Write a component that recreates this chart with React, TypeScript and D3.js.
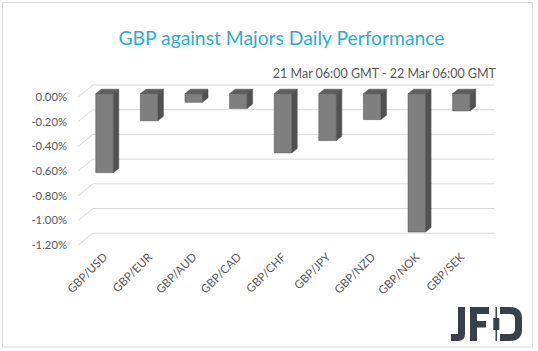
import { useEffect, useRef } from "react";
import * as d3 from "d3";

const pairs = [
  "GBP/USD",
  "GBP/EUR",
  "GBP/AUD",
  "GBP/CAD",
  "GBP/CHF",
  "GBP/JPY",
  "GBP/NZD",
  "GBP/NOK",
  "GBP/SEK",
];
const changes = [-0.64, -0.22, -0.07, -0.12, -0.48, -0.38, -0.21, -1.12, -0.14];
const yTicks = [0, -0.2, -0.4, -0.6, -0.8, -1.0, -1.2];

const title = "GBP against Majors Daily Performance";
const subtitle = "21 Mar 06:00 GMT - 22 Mar 06:00 GMT";

export default function App() {
  const svgRef = useRef<SVGSVGElement>(null);

  useEffect(() => {
    document.body.style.margin = "0";
    if (!svgRef.current) return;
    const svg = d3.select(svgRef.current);
    svg.selectAll("*").remove();

    const W = 538;
    const H = 351;
    const font = "Lato, 'Open Sans', sans-serif";

    // 3d depth of the plot box (front plane -> back wall)
    const depth = { dx: 15, dy: -12 };
    const barFront = 0.28;
    const barBack = 0.65;

    const x = d3
      .scaleBand<string>()
      .domain(pairs)
      .range([78, 479.5])
      .paddingInner(0.608)
      .paddingOuter(0.304);

    const y = d3.scaleLinear().domain([0, -1.2]).range([97, 245.2]);

    svg.attr("width", W).attr("height", H).style("display", "block");

    svg
      .append("rect")
      .attr("width", W)
      .attr("height", H)
      .attr("fill", "#fff");

    svg
      .append("rect")
      .attr("x", 2.5)
      .attr("y", 2.5)
      .attr("width", 530)
      .attr("height", 344.5)
      .attr("fill", "none")
      .attr("stroke", "#d9d9d9");

    // Title + subtitle
    svg
      .append("text")
      .attr("x", 281.5)
      .attr("y", 45)
      .attr("text-anchor", "middle")
      .attr("font-family", font)
      .attr("font-size", 19.3)
      .attr("fill", "#1fb0dc")
      .text(title);

    svg
      .append("text")
      .attr("x", 496)
      .attr("y", 78)
      .attr("text-anchor", "end")
      .attr("font-family", font)
      .attr("font-size", 12.5)
      .attr("fill", "#595959")
      .text(subtitle);

    // Gridlines: back wall + side wall diagonals
    const grid = svg.append("g").attr("stroke", "#d9d9d9").attr("fill", "none");
    const [x0, x1] = x.range();
    yTicks.forEach((t) => {
      const yf = y(t);
      grid
        .append("path")
        .attr(
          "d",
          `M${x0},${yf}L${x0 + depth.dx},${yf + depth.dy}L${x1 + depth.dx},${yf + depth.dy}`
        );
    });

    // Y labels
    svg
      .append("g")
      .selectAll("text")
      .data(yTicks)
      .enter()
      .append("text")
      .attr("x", 67)
      .attr("y", (d) => y(d))
      .attr("dy", "0.35em")
      .attr("text-anchor", "end")
      .attr("font-family", font)
      .attr("font-size", 11.3)
      .attr("fill", "#595959")
      .text((d) => (d === 0 ? "0.00%" : d3.format(".2f")(d) + "%").replace("−", "-"));

    // Bars
    const fx = barFront * depth.dx;
    const fy = barFront * depth.dy;
    const bx = barBack * depth.dx;
    const by = barBack * depth.dy;
    const bars = svg
      .append("g")
      .selectAll("g")
      .data(pairs.map((p, i) => ({ p, v: changes[i] })))
      .enter()
      .append("g")
      .attr("stroke", "#4a4a4a")
      .attr("stroke-width", 0.5)
      .attr("stroke-linejoin", "round");

    bars.each(function (d) {
      const g = d3.select(this);
      const l = (x(d.p) ?? 0) + fx;
      const r = l + x.bandwidth();
      const t = y(0) + fy;
      const b = y(d.v) + fy;
      const ox = bx - fx;
      const oy = by - fy;
      // side
      g.append("path")
        .attr("fill", "#515151")
        .attr("d", `M${r},${t}L${r + ox},${t + oy}L${r + ox},${b + oy}L${r},${b}Z`);
      // top
      g.append("path")
        .attr("fill", "#5e5e5e")
        .attr("d", `M${l},${t}L${l + ox},${t + oy}L${r + ox},${t + oy}L${r},${t}Z`);
      // front
      g.append("rect")
        .attr("x", l)
        .attr("y", t)
        .attr("width", x.bandwidth())
        .attr("height", b - t)
        .attr("fill", "#7f7f7f");
    });

    // X labels
    svg
      .append("g")
      .selectAll("text")
      .data(pairs)
      .enter()
      .append("text")
      .attr(
        "transform",
        (d) => `translate(${(x(d) ?? 0) + x.bandwidth() / 2 + 5},${255}) rotate(-45)`
      )
      .attr("text-anchor", "end")
      .attr("dy", "0.35em")
      .attr("font-family", font)
      .attr("font-size", 11.5)
      .attr("fill", "#595959")
      .text((d) => d);

    // JFD logo
    const logo = svg
      .append("g")
      .attr("transform", "translate(451,307)")
      .attr("fill", "#3a4049");
    logo.append("path").attr("d", "M7,0H14V27Q14,34 7,34H0V27H7Z");
    logo.append("rect").attr("x", 19).attr("y", 0).attr("width", 7).attr("height", 34);
    logo.append("rect").attr("x", 19).attr("y", 0).attr("width", 19).attr("height", 7);
    logo.append("rect").attr("x", 19).attr("y", 14).attr("width", 16).attr("height", 6.5);
    logo.append("rect").attr("x", 44.5).attr("y", 0).attr("width", 1.5).attr("height", 34);
    logo.append("rect").attr("x", 42.3).attr("y", 11).attr("width", 6).attr("height", 12);
    logo
      .append("path")
      .attr(
        "d",
        "M49,0H59Q71,0 71,12V22Q71,34 59,34H49V27H59Q64,27 64,22V12Q64,7 59,7H49Z"
      );
  }, []);

  return <svg ref={svgRef} />;
}
